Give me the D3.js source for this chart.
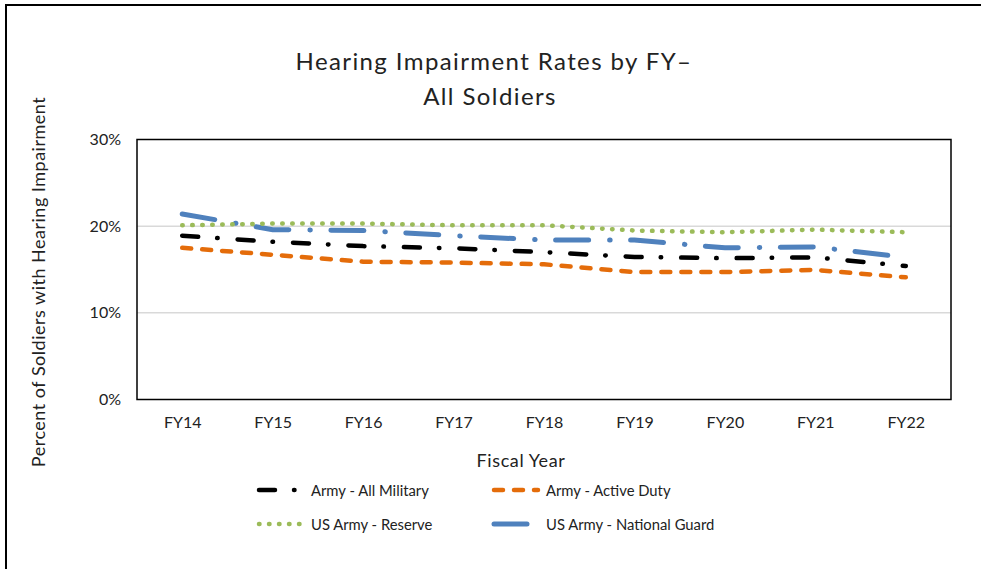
<script src="https://d3js.org/d3.v7.min.js"></script>
<html>
<head>
<style>
  body { margin: 0; background: #fff; }
  svg { display: block; font-family: Lato, "Open Sans", sans-serif; }
</style>
</head>
<body>
<script>
// data
var years = ["FY14","FY15","FY16","FY17","FY18","FY19","FY20","FY21","FY22"];
var allMilitary   = [0.189, 0.182, 0.177, 0.1745, 0.170, 0.1645, 0.163, 0.164, 0.154];
var activeDuty    = [0.175, 0.167, 0.159, 0.158, 0.156, 0.147, 0.147, 0.1495, 0.141];
var reserve       = [0.201, 0.203, 0.203, 0.201, 0.201, 0.195, 0.193, 0.196, 0.193];
var nationalGuard = [0.214, 0.196, 0.195, 0.189, 0.184, 0.184, 0.175, 0.176, 0.164];
var yTicks = [0, 0.1, 0.2, 0.3];
var seriesNames = ["Army - All Military", "Army - Active Duty", "US Army - Reserve", "US Army - National Guard"];

var W = 981, H = 569;
var plot = {left: 137, right: 951, top: 139.5, bottom: 399.5};

var svg = d3.select("body").append("svg")
  .attr("width", W)
  .attr("height", H);

// outer frame (only left and top edges are in view)
svg.append("line").attr("x1", 6).attr("x2", 6).attr("y1", 4).attr("y2", H)
  .attr("stroke", "#000").attr("stroke-width", 2);
svg.append("line").attr("x1", 5).attr("x2", W).attr("y1", 5).attr("y2", 5)
  .attr("stroke", "#000").attr("stroke-width", 2);

var x = d3.scalePoint()
  .domain(years)
  .range([plot.left, plot.right])
  .padding(0.5);
var y = d3.scaleLinear()
  .domain([0, 0.3])
  .range([plot.bottom, plot.top]);

// title
var title = svg.append("text")
  .attr("text-anchor", "middle")
  .attr("font-size", 24)
  .attr("letter-spacing", 1.4)
  .attr("fill", "#222");
title.append("tspan").attr("x", 494).attr("y", 70).text("Hearing Impairment Rates by FY\u2013");
title.append("tspan").attr("x", 490).attr("y", 105).text("All Soldiers");

// gridlines
svg.append("g").selectAll("line")
  .data(yTicks.filter(function(d){ return d > 0 && d < 0.3; }))
  .enter().append("line")
  .attr("x1", plot.left).attr("x2", plot.right)
  .attr("y1", function(d){ return y(d); })
  .attr("y2", function(d){ return y(d); })
  .attr("stroke", "#d9d9d9")
  .attr("stroke-width", 1.5);

// y axis labels
var yAx = d3.axisLeft(y)
  .tickValues(yTicks)
  .tickSize(0)
  .tickPadding(0)
  .tickFormat(d3.format(".0%"));
var yGroup = svg.append("g")
  .attr("transform", "translate(121,0)")
  .call(yAx);
yGroup.select(".domain").remove();
yGroup.selectAll("text")
  .attr("font-family", "Lato, sans-serif")
  .attr("font-size", 16)
  .attr("fill", "#222");

// x axis labels
var xAx = d3.axisBottom(x).tickSize(0).tickPadding(0);
var xGroup = svg.append("g")
  .attr("transform", "translate(0,417)")
  .call(xAx);
xGroup.select(".domain").remove();
xGroup.selectAll("text")
  .attr("font-family", "Lato, sans-serif")
  .attr("font-size", 16)
  .attr("fill", "#222");

// axis titles
svg.append("text")
  .attr("x", 521).attr("y", 467)
  .attr("text-anchor", "middle")
  .attr("font-size", 18)
  .attr("letter-spacing", 0.6)
  .attr("fill", "#222")
  .text("Fiscal Year");
svg.append("text")
  .attr("transform", "translate(45,282) rotate(-90)")
  .attr("text-anchor", "middle")
  .attr("font-size", 18)
  .attr("letter-spacing", 0.5)
  .attr("fill", "#222")
  .text("Percent of Soldiers with Hearing Impairment");

// series styles
var series = [
  {name: seriesNames[3], values: nationalGuard, color: "#4f81bd", width: 5, dash: "33,21,0.5,20.5"},
  {name: seriesNames[2], values: reserve, color: "#9bbb59", width: 4.5, dash: "0.5,9.5"},
  {name: seriesNames[0], values: allMilitary, color: "#000000", width: 4.5, dash: "16,19,0.5,20"},
  {name: seriesNames[1], values: activeDuty, color: "#e46c0a", width: 4.5, dash: "9,11"}
];

var line = d3.line()
  .x(function(d, i){ return x(years[i]); })
  .y(function(d){ return y(d); });

svg.append("g").selectAll("path")
  .data(series)
  .enter().append("path")
  .attr("d", function(s){ return line(s.values); })
  .attr("fill", "none")
  .attr("stroke", function(s){ return s.color; })
  .attr("stroke-width", function(s){ return s.width; })
  .attr("stroke-dasharray", function(s){ return s.dash; })
  .attr("stroke-linecap", "round");

// plot border
svg.append("rect")
  .attr("x", plot.left).attr("y", plot.top)
  .attr("width", plot.right - plot.left)
  .attr("height", plot.bottom - plot.top)
  .attr("fill", "none")
  .attr("stroke", "#000")
  .attr("stroke-width", 1.5);

// legend
var legendItems = [
  {s: series[2], x: 259, y: 490, len: 36},
  {s: series[3], x: 494, y: 490, len: 44},
  {s: series[1], x: 259, y: 524, len: 48},
  {s: series[0], x: 494, y: 524, len: 33}
];
var leg = svg.append("g").selectAll("g")
  .data(legendItems)
  .enter().append("g");
leg.append("line")
  .attr("x1", function(d){ return d.x; })
  .attr("x2", function(d){ return d.x + d.len; })
  .attr("y1", function(d){ return d.y; })
  .attr("y2", function(d){ return d.y; })
  .attr("stroke", function(d){ return d.s.color; })
  .attr("stroke-width", function(d){ return d.s.width; })
  .attr("stroke-dasharray", function(d){ return d.s === series[0] ? "0" : (d.s === series[2] ? "16,19,0.5,20" : d.s.dash); })
  .attr("stroke-linecap", "round");
leg.append("text")
  .attr("x", function(d){ return d.x < 300 ? 311 : 546; })
  .attr("y", function(d){ return d.y + 5.5; })
  .attr("font-size", 14.8)
  .attr("fill", "#222")
  .text(function(d){ return d.s.name; });
</script>
</body>
</html>
